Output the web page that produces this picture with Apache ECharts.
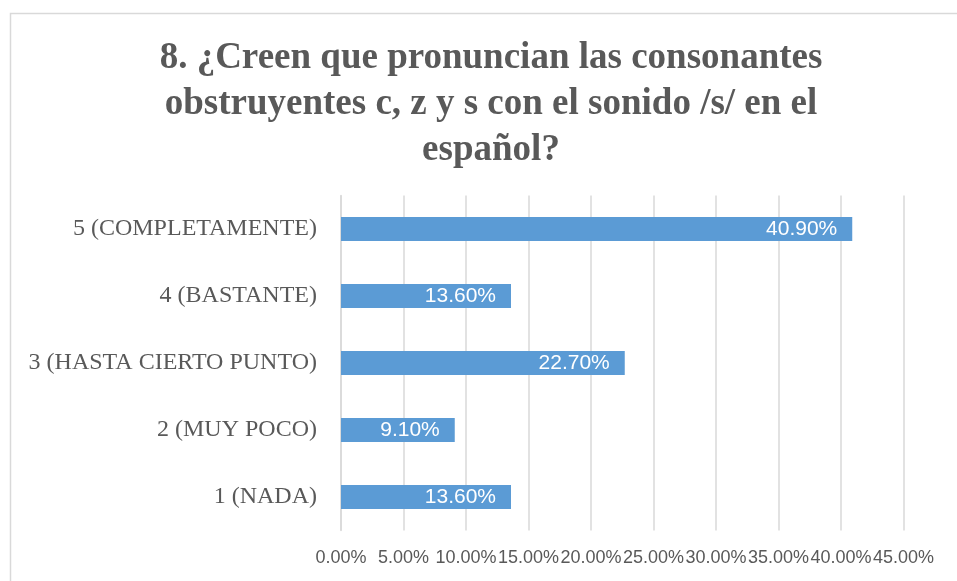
<!DOCTYPE html>
<html>
<head>
<meta charset="utf-8">
<title>Consonantes obstruyentes</title>
<script src="https://cdn.jsdelivr.net/npm/echarts@6/dist/echarts.min.js"></script>
<style>
	html, body { margin: 0; padding: 0; background: #fff; }
	#grafico { width: 957px; height: 581px; }
</style>
</head>
<body>
<div id="grafico"></div>
<script>
// datos del gráfico
var categorias = ['1 (NADA)', '2 (MUY POCO)', '3 (HASTA CIERTO PUNTO)', '4 (BASTANTE)', '5 (COMPLETAMENTE)'];
var porcentajes = [13.6, 9.1, 22.7, 13.6, 40.9];
var titulo = '8. ¿Creen que pronuncian las consonantes\nobstruyentes c, z y s con el sonido /s/ en el\nespañol?';

var gris = '#595959';

var myChart = echarts.init(document.getElementById('grafico'));
var option = {
	animation: false,
	backgroundColor: '#fff',
	graphic: [{
		// marco del gráfico
		type: 'rect',
		shape: { x: 10.5, y: 13.5, width: 1200, height: 1200 },
		style: { fill: 'none', stroke: '#d9d9d9', lineWidth: 1.5 },
		silent: true
	}, {
		// título
		type: 'text',
		x: 491,
		y: 35,
		style: {
			text: titulo,
			align: 'center',
			verticalAlign: 'top',
			font: 'bold 37px "Liberation Serif"',
			lineHeight: 46,
			fill: gris
		},
		silent: true
	}],
	grid: {
		left: 341,
		right: 53.5,
		top: 195.5,
		bottom: 50.5
	},
	xAxis: {
		type: 'value',
		min: 0,
		max: 45,
		interval: 5,
		axisLine: { show: false },
		axisTick: { show: false },
		splitLine: { lineStyle: { color: '#d9d9d9', width: 1.5 } },
		axisLabel: {
			margin: 19,
			color: gris,
			fontFamily: 'Liberation Sans',
			fontSize: 18,
			showMinLabel: true,
			showMaxLabel: true,
			formatter: function(v) {
				return v.toFixed(2) + '%';
			}
		}
	},
	yAxis: {
		type: 'category',
		data: categorias,
		axisLine: { lineStyle: { color: '#d9d9d9', width: 1.5 } },
		axisTick: { show: false },
		axisLabel: {
			margin: 24,
			color: gris,
			fontFamily: 'Liberation Serif',
			fontSize: 24
		}
	},
	series: [{
		type: 'bar',
		data: porcentajes,
		barCategoryGap: '64%',
		itemStyle: { color: '#5b9bd5' },
		label: {
			show: true,
			position: 'insideRight',
			distance: 15,
			color: '#fff',
			fontFamily: 'Liberation Sans',
			fontSize: 21,
			formatter: function(p) {
				return p.value.toFixed(2) + '%';
			}
		}
	}]
};
myChart.setOption(option);

window.onresize = function() {
	myChart.resize();
};
</script>
</body>
</html>
